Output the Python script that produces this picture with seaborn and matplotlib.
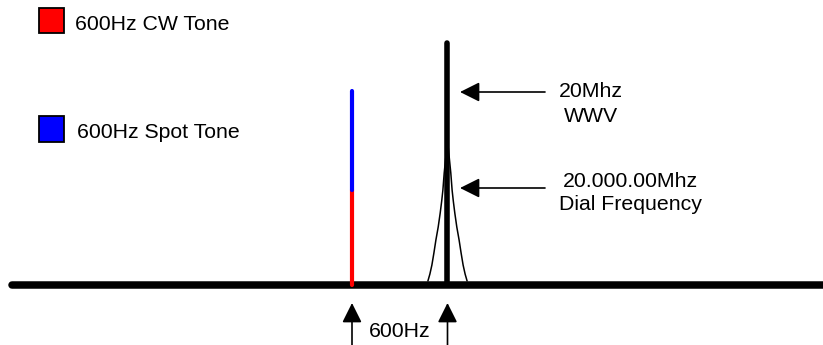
import numpy as np
import matplotlib
matplotlib.use("Agg")
import matplotlib.pyplot as plt
from matplotlib.patches import Rectangle
import seaborn as sns

sns.set_style("white")
plt.rcParams['font.family'] = ['Liberation Sans', 'DejaVu Sans']

# diagram values, in picture units (x to the right, y downwards)
baseline_x = [12, 823]
baseline_y = 284.5
tone_x = 352            # 600Hz tone
wwv_x = 447.5           # 20Mhz WWV carrier / dial frequency
cw_top = 190            # red part of the tone line
spot_top = 91           # blue part of the tone line
wwv_top = 43
# passband skirt: offset from carrier and height
skirt_dx = [0, 1.5, 3.3, 4.6, 5.8, 7.3, 9.3, 11.6, 13.6, 15.6, 17.6, 19.6]
skirt_y = [140, 155, 173, 190, 201, 213, 227, 240, 253, 265, 274, 281]
legend_labels = ['600Hz CW Tone', '600Hz Spot Tone']
legend_colors = ['#ff0000', '#0000ff']
legend_y = [20, 128.5]
arrow_y = [92, 188]
arrow_labels = [('20Mhz', 'WWV'), ('20.000.00Mhz', 'Dial Frequency')]
label_x = [591, 630.5]
label_base = [(97, 122), (187, 210)]

fig = plt.figure(figsize=(8.23, 3.45), dpi=100)
ax = fig.add_axes([0, 0, 1, 1])
ax.set_xlim(0, 823)
ax.set_ylim(345, 0)
ax.axis('off')

fs = 15.3

# skirt curve round the carrier
dx = np.array(skirt_dx)
sy = np.array(skirt_y)
sns.lineplot(x=wwv_x + dx, y=sy, ax=ax, color='black', linewidth=1.1,
             sort=False, estimator=None)
sns.lineplot(x=wwv_x - dx, y=sy, ax=ax, color='black', linewidth=1.1,
             sort=False, estimator=None)

# baseline
sns.lineplot(x=baseline_x, y=[baseline_y] * 2, ax=ax, color='black',
             linewidth=5.4, sort=False, estimator=None)
ax.lines[-1].set_solid_capstyle('round')

# 600Hz tone: red lower, blue upper
sns.lineplot(x=[tone_x, tone_x], y=[baseline_y, cw_top], ax=ax, color=legend_colors[0],
             linewidth=3.0, sort=False, estimator=None)
ax.lines[-1].set_solid_capstyle('round')
sns.lineplot(x=[tone_x, tone_x], y=[cw_top, spot_top], ax=ax, color=legend_colors[1],
             linewidth=3.0, sort=False, estimator=None)
ax.lines[-1].set_solid_capstyle('round')

# WWV carrier
sns.lineplot(x=[wwv_x, wwv_x], y=[baseline_y, wwv_top], ax=ax, color='black',
             linewidth=4.0, sort=False, estimator=None)
ax.lines[-1].set_solid_capstyle('round')

# legend squares
for lab, col, ly in zip(legend_labels, legend_colors, legend_y):
    ax.add_patch(Rectangle((39.5, ly - 12.5), 24.5, 25.5, facecolor=col,
                           edgecolor='black', linewidth=1.3))
    ax.text(75 if ly < 50 else 77, ly + 10, lab, fontsize=fs, va='baseline',
            ha='left', color='black')

# arrows pointing at the carrier
aprops = dict(arrowstyle='-|>,head_length=1.2,head_width=0.6', color='black',
              lw=1.2, shrinkA=0, shrinkB=0, mutation_scale=10)
for ay in arrow_y:
    ax.annotate('', xy=(460, ay), xytext=(545, ay), arrowprops=aprops)
for (l1, l2), lx, (b1, b2) in zip(arrow_labels, label_x, label_base):
    ax.text(lx, b1, l1, fontsize=fs, ha='center', va='baseline', color='black')
    ax.text(lx, b2, l2, fontsize=fs, ha='center', va='baseline', color='black')

# bottom arrows and spacing label
for x in [tone_x, wwv_x]:
    ax.annotate('', xy=(x, 303), xytext=(x, 350), arrowprops=aprops)
ax.text((tone_x + wwv_x) / 2, 337, '600Hz', fontsize=fs, ha='center',
        va='baseline', color='black')

fig.savefig('out.png', dpi=100)
